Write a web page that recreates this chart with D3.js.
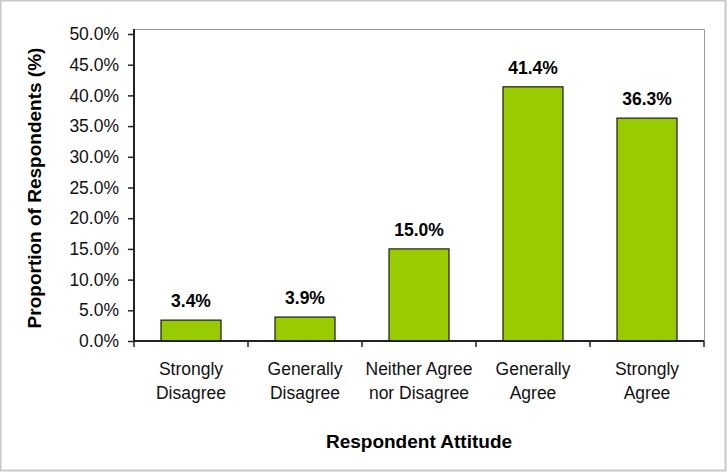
<!DOCTYPE html>
<html>
<head>
<meta charset="utf-8">
<script src="https://cdn.jsdelivr.net/npm/d3@7"></script>
<style>
  html, body { margin: 0; padding: 0; background: #fff; }
  svg { display: block; font-family: "Liberation Sans", Arial, sans-serif; }
</style>
</head>
<body>
<svg id="chart" width="728" height="472"></svg>
<script>
// Survey results: share of respondents by attitude
const categories = [
  ["Strongly", "Disagree"],
  ["Generally", "Disagree"],
  ["Neither Agree", "nor Disagree"],
  ["Generally", "Agree"],
  ["Strongly", "Agree"]
];
const percentages = [3.4, 3.9, 15.0, 41.4, 36.3];
const yTicks = [0, 5, 10, 15, 20, 25, 30, 35, 40, 45, 50];
const xTitle = "Respondent Attitude";
const yTitle = "Proportion of Respondents (%)";

const svg = d3.select("#chart");
const W = 728, H = 472;
const plot = { left: 134, right: 704, top: 29, bottom: 341 };

// outer chart frame
svg.append("rect")
  .attr("x", 0.5).attr("y", 0.5)
  .attr("width", 725).attr("height", 470)
  .attr("fill", "#fff")
  .attr("stroke", "#c8c8c8").attr("stroke-width", 2);

const x = d3.scaleBand()
  .domain(d3.range(categories.length))
  .range([plot.left, plot.right])
  .paddingInner(0).paddingOuter(0);

const y = d3.scaleLinear().domain([0, 50]).range([plot.bottom, 34]);

// plot area border (top and right)
svg.append("path")
  .attr("d", `M${plot.left},${plot.top + 0.5}H${plot.right + 0.5}V${plot.bottom}`)
  .attr("fill", "none").attr("stroke", "#9a9a9a").attr("stroke-width", 1);

// bars
const barW = 60;
svg.append("g").selectAll("rect")
  .data(percentages)
  .join("rect")
  .attr("x", (d, i) => x(i) + x.bandwidth() / 2 - barW / 2)
  .attr("y", d => y(d))
  .attr("width", barW)
  .attr("height", d => y(0) - y(d))
  .attr("fill", "#99cc00")
  .attr("stroke", "#1a1a1a").attr("stroke-width", 1.2);

// value labels
svg.append("g").selectAll("text")
  .data(percentages)
  .join("text")
  .attr("x", (d, i) => x(i) + x.bandwidth() / 2)
  .attr("y", d => y(d) - 13)
  .attr("text-anchor", "middle")
  .attr("font-size", "17.5px").attr("font-weight", "bold")
  .attr("fill", "#000")
  .text(d => d.toFixed(1) + "%");

// y axis
const yAxis = d3.axisLeft(y)
  .tickValues(yTicks)
  .tickFormat(d => d.toFixed(1) + "%")
  .tickSize(6).tickPadding(9);
const gy = svg.append("g")
  .attr("transform", `translate(${plot.left},0)`)
  .call(yAxis);
gy.select(".domain").attr("d", `M0,${plot.top}V${plot.bottom}`)
  .attr("stroke", "#222").attr("stroke-width", 2);
gy.selectAll(".tick line").attr("stroke", "#222").attr("stroke-width", 1.5);
gy.selectAll(".tick text")
  .attr("font-size", "17.5px").attr("fill", "#111")
  .attr("font-family", "Liberation Sans, Arial, sans-serif");

// x axis: baseline with ticks at category boundaries
const boundaries = d3.range(categories.length + 1).map(i =>
  i < categories.length ? x(i) : x(categories.length - 1) + x.bandwidth());
const gx = svg.append("g");
gx.append("line")
  .attr("x1", plot.left).attr("x2", plot.right)
  .attr("y1", plot.bottom).attr("y2", plot.bottom)
  .attr("stroke", "#222").attr("stroke-width", 2);
gx.selectAll(".bt")
  .data(boundaries)
  .join("line")
  .attr("class", "bt")
  .attr("x1", d => d).attr("x2", d => d)
  .attr("y1", plot.bottom).attr("y2", plot.bottom + 6)
  .attr("stroke", "#222").attr("stroke-width", 1.5);

// category labels (two lines each)
const catText = gx.selectAll(".cat")
  .data(categories)
  .join("text")
  .attr("class", "cat")
  .attr("text-anchor", "middle")
  .attr("font-size", "17.5px").attr("fill", "#111")
  .attr("transform", (d, i) => `translate(${x(i) + x.bandwidth() / 2},375)`);
catText.selectAll("tspan")
  .data(d => d)
  .join("tspan")
  .attr("x", 0)
  .attr("y", (d, j) => j * 23.5)
  .text(d => d);

// axis titles
svg.append("text")
  .attr("x", (plot.left + plot.right) / 2).attr("y", 448)
  .attr("text-anchor", "middle")
  .attr("font-size", "19px").attr("font-weight", "bold").attr("fill", "#000")
  .text(xTitle);

svg.append("text")
  .attr("transform", "translate(41,188) rotate(-90)")
  .attr("text-anchor", "middle")
  .attr("font-size", "19px").attr("font-weight", "bold").attr("fill", "#000")
  .text(yTitle);
</script>
</body>
</html>
